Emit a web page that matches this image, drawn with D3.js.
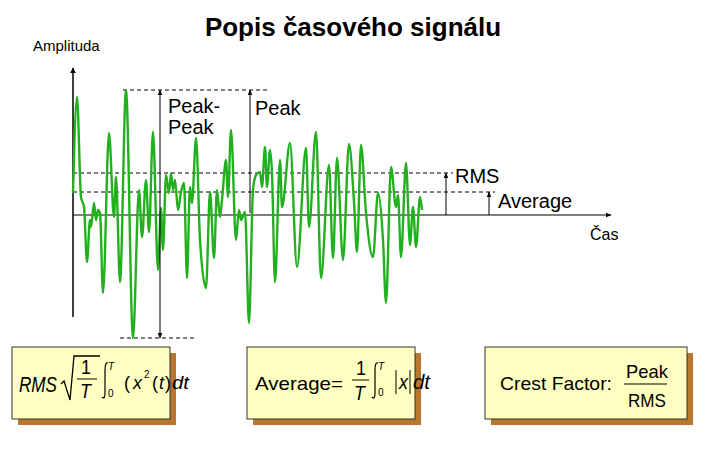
<!DOCTYPE html>
<html><head><meta charset="utf-8">
<script src="https://cdn.jsdelivr.net/npm/d3@7"></script>
<style>body{margin:0;background:#fff}text{font-family:"Liberation Sans",Arial,sans-serif}</style>
</head><body>
<script>
// signal extrema (time units, amplitude units)
var times = [0,4,8,11,14,17,18,21,23,25,27,30,36,41,43,47,53,60,66,69,73,76,80,85,88,90,93,96,98,100,102,105,108,111,114,117,119,123,127,133,137,141,144,147,149,153,155,158,163,166,168,172,176,180,183,187,189,192,194,197,199,202,207,209,217,224,233,236,243,248,256,260,264,270,276,281,284,288,293,300,305,310,313,318,323,325,328,333,337,340,343,347,349];
var amps = [22,118,18,8,-47,-5,-12,12,-5,5,2,-78,82,-2,38,-67,125,-123,25,-22,35,-17,83,-55,7,-35,40,22,42,25,35,5,23,32,-63,28,12,77,-25,-73,23,-43,25,-2,15,55,18,85,-25,5,-5,3,-108,25,40,43,28,68,28,65,42,-67,55,8,72,-52,67,-12,83,-63,50,-43,57,-45,71,13,-37,70,2,-42,22,-25,-88,48,8,20,-42,52,-30,8,-32,18,5];
var levels = {peak: 125, trough: -123, rms: 42, average: 23};
var boxes = ["rms", "avg", "crest"];

var svg = d3.select('body').append('svg').attr('width', 705).attr('height', 455);
var x = d3.scaleLinear().domain([0, 349]).range([73, 422]);
var y = d3.scaleLinear().domain([-125, 125]).range([340, 90]);

var defs = svg.append('defs');
defs.append('marker').attr('id', 'ah').attr('viewBox', '0 0 10 10').attr('refX', 9).attr('refY', 5)
  .attr('markerWidth', 6).attr('markerHeight', 6).attr('orient', 'auto-start-reverse')
  .append('path').attr('d', 'M0,1 L10,5 L0,9 z').attr('fill', '#000');
defs.append('marker').attr('id', 'big').attr('viewBox', '0 0 10 10').attr('refX', 9).attr('refY', 5)
  .attr('markerWidth', 4).attr('markerHeight', 4).attr('markerUnits', 'strokeWidth').attr('orient', 'auto')
  .append('path').attr('d', 'M0,0 L10,5 L0,10 z').attr('fill', '#000');

svg.append('text').attr('x', 353).attr('y', 36).attr('text-anchor', 'middle')
  .style('font-size', '26px').style('font-weight', 'bold').text('Popis časového signálu');
svg.append('text').attr('x', 33).attr('y', 51).style('font-size', '15px').text('Amplituda');

// axes
svg.append('line').attr('x1', x(0)).attr('x2', x(0)).attr('y1', 317).attr('y2', 68)
  .attr('stroke', '#000').attr('stroke-width', 1.5).attr('marker-end', 'url(#big)');
svg.append('line').attr('x1', x(0)).attr('x2', 611).attr('y1', y(0)).attr('y2', y(0))
  .attr('stroke', '#000').attr('stroke-width', 1).attr('marker-end', 'url(#ah)');
svg.append('text').attr('x', 590).attr('y', 240).style('font-size', '16px').text('Čas');

function dash(v, x1, x2) {
  svg.append('line').attr('x1', x1).attr('x2', x2).attr('y1', y(v)).attr('y2', y(v))
    .attr('stroke', '#000').attr('stroke-dasharray', '4,3');
}
dash(levels.peak, 123, 267);
dash(levels.trough, 120, 196);
dash(levels.rms, x(0), 453);
dash(levels.average, x(0), 495);

// signal
svg.append('path').datum(d3.zip(times, amps))
  .attr('d', d3.line().x(d => x(d[0])).y(d => y(d[1])).curve(d3.curveMonotoneX))
  .attr('fill', 'none').attr('stroke', '#22b01e').attr('stroke-width', 2.4);

function arrow(xp, v1, v2, both) {
  var l = svg.append('line').attr('x1', xp).attr('x2', xp).attr('y1', y(v1)).attr('y2', y(v2))
    .attr('stroke', '#000').attr('stroke-width', 1).attr('marker-end', 'url(#ah)');
  if (both) l.attr('marker-start', 'url(#ah)');
}
arrow(160, levels.trough, levels.peak, true);
arrow(250, 2, levels.peak);
arrow(446, 0, levels.rms);
arrow(489, 0, levels.average);

function label(t, xp, yp) { svg.append('text').attr('x', xp).attr('y', yp).style('font-size', '20px').text(t); }
label('Peak-', 168, 113); label('Peak', 168, 134); label('Peak', 255, 115);
label('RMS', 455, 183); label('Average', 498, 208);

// formula boxes
var bx = {rms: [12, 158], avg: [247, 168], crest: [485, 202]};
boxes.forEach(function (k) {
  svg.append('rect').attr('x', bx[k][0] + 6).attr('y', 353).attr('width', bx[k][1]).attr('height', 72).attr('fill', '#b8772e');
  svg.append('rect').attr('x', bx[k][0]).attr('y', 347).attr('width', bx[k][1]).attr('height', 72)
    .attr('fill', '#ffffc2').attr('stroke', '#333').attr('stroke-width', 1);
});
function ft(t, xp, yp, size, it, w) {
  var e = svg.append('text').attr('x', xp).attr('y', yp).style('font-size', size + 'px')
    .style('font-style', it ? 'italic' : 'normal').text(t);
  if (w) e.attr('textLength', w).attr('lengthAdjust', 'spacingAndGlyphs');
  return e;
}
function integral(xp) {
  svg.append('path').attr('d', 'M' + (xp + 5) + ',363 C' + (xp + 3) + ',362 ' + (xp + 2) + ',365 ' + (xp + 2) + ',370 L' + (xp + 2) + ',393 C' + (xp + 2) + ',398 ' + (xp + 1) + ',399 ' + (xp - 1) + ',397')
    .attr('fill', 'none').attr('stroke', '#000').attr('stroke-width', 1.2);
}
// RMS
ft('RMS', 19, 392, 22, true, 38);
svg.append('path').attr('d', 'M61,384 L64,381 L70,400 L74,356 L100,356').attr('fill', 'none').attr('stroke', '#000').attr('stroke-width', 1.3);
ft('1', 81, 374, 20, false, 10); svg.append('line').attr('x1', 77).attr('x2', 97).attr('y1', 379).attr('y2', 379).attr('stroke', '#000');
ft('T', 80, 398, 20, true, 11);
integral(103); ft('T', 108, 370, 10, true); ft('0', 108, 397, 10);
ft('(', 124, 389, 19, false, 6); ft('x', 133, 389, 19, true, 9); ft('2', 144, 378, 10); ft('(', 152, 389, 19, false, 6);
ft('t', 159, 389, 19, true, 5); ft(')', 165, 389, 19, false, 6); ft('dt', 172, 389, 19, true, 17);
// Average
ft('Average=', 255, 390, 19, false, 88);
ft('1', 356, 375, 20, false, 10); svg.append('line').attr('x1', 352).attr('x2', 369).attr('y1', 380).attr('y2', 380).attr('stroke', '#000');
ft('T', 354, 400, 20, true, 11);
integral(373); ft('T', 378, 370, 10, true); ft('0', 378, 396, 10);
svg.append('line').attr('x1', 396).attr('x2', 396).attr('y1', 370).attr('y2', 394).attr('stroke', '#000');
ft('x', 399, 389, 20, true, 9);
svg.append('line').attr('x1', 410).attr('x2', 410).attr('y1', 370).attr('y2', 394).attr('stroke', '#000');
ft('dt', 413, 389, 20, true, 17);
// Crest
ft('Crest Factor:', 500, 390, 19, false, 112);
ft('Peak', 626, 378, 19, false, 42);
svg.append('line').attr('x1', 624).attr('x2', 667).attr('y1', 384).attr('y2', 384).attr('stroke', '#000');
ft('RMS', 628, 407, 19, false, 38);
</script>
</body></html>
